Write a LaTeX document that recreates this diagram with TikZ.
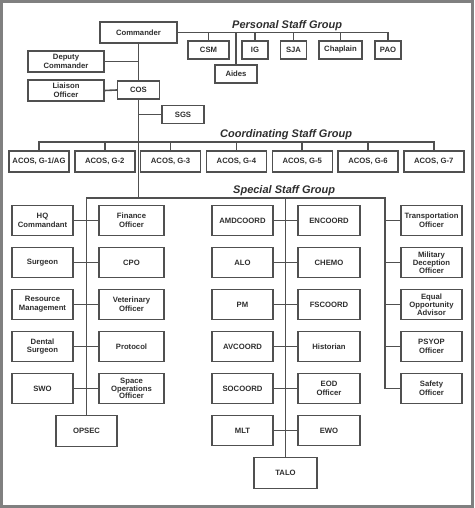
\documentclass[tikz,border=0pt]{standalone}
\usepackage{fontspec}
\setmainfont{Liberation Sans}
\definecolor{linecol}{HTML}{505050}
\definecolor{txtcol}{HTML}{2E2E2E}
\definecolor{framecol}{HTML}{808080}
\begin{document}
\begin{tikzpicture}[x=1pt,y=-1pt,
  bx/.style={draw=linecol,line width=1.4pt,fill=white,text=txtcol,
    font=\fontsize{7.7}{8.7}\selectfont\bfseries,align=center,inner sep=0pt,
    minimum width=#1},
  bx/.default=61pt,
  three/.style={font=\fontsize{7.7}{7.8}\selectfont\bfseries},
  h18/.style={minimum height=18pt},
  h21/.style={minimum height=21pt},
  h31/.style={minimum height=30.5pt},
  conn/.style={draw=linecol,line width=1.6pt},
  grp/.style={text=txtcol,font=\fontsize{11}{12}\selectfont\bfseries\itshape,inner sep=0pt,anchor=base west}]
\useasboundingbox (0,0) rectangle (474,508);
\fill[white] (0,0) rectangle (474,508);
\draw[framecol,line width=3pt] (1.5,1.5) rectangle (472.5,506.5);

% connector junctions
\coordinate (cj) at (138.5,142);
\coordinate (sj) at (138.5,198);
\coordinate (rv) at (385,198);

% top
\node[bx=77pt,h21] (cmd) at (138.5,32.5) {Commander};
\node[bx=76pt,h21] (dep) at (66,61.5) {Deputy\\Commander};
\node[bx=76pt,h21] (lia) at (66,90.5) {Liaison\\Officer};
\node[bx=42pt,h18] (cos) at (138.5,90) {COS};
\node[bx=42pt,h18] (sgs) at (183,114.5) {SGS};

% personal staff
\node[grp] (pgl) at (232,28.5) {Personal Staff Group};
\node[bx=41pt,h18] (csm) at (208.5,50) {CSM};
\node[bx=42pt,h18] (aid) at (236,74) {Aides};
\node[bx=26pt,h18] (ig) at (255,50) {IG};
\node[bx=26pt,h18] (sja) at (293.5,50) {SJA};
\node[bx=43pt,h18] (cha) at (340.5,50) {Chaplain};
\node[bx=26pt,h18] (pao) at (388,50) {PAO};

% coordinating staff
\node[grp] (cgl) at (220,137.8) {Coordinating Staff Group};
\node[bx=60pt,h21] (g1) at (39,161.5) {ACOS, G-1/AG};
\node[bx=60pt,h21] (g2) at (104.8,161.5) {ACOS, G-2};
\node[bx=60pt,h21] (g3) at (170.6,161.5) {ACOS, G-3};
\node[bx=60pt,h21] (g4) at (236.4,161.5) {ACOS, G-4};
\node[bx=60pt,h21] (g5) at (302.2,161.5) {ACOS, G-5};
\node[bx=60pt,h21] (g6) at (368,161.5) {ACOS, G-6};
\node[bx=60pt,h21] (g7) at (433.8,161.5) {ACOS, G-7};

% special staff
\node[grp] (sgl) at (233,193.3) {Special Staff Group};

% left block
\node[bx,h31] (hq) at (42.5,220.5) {HQ\\Commandant};
\node[bx=65pt,h31] (fin) at (131.5,220.5) {Finance\\Officer};
\node[bx,h31] (sur) at (42.5,262.5) {Surgeon};
\node[bx=65pt,h31] (cpo) at (131.5,262.5) {CPO};
\node[bx,h31] (res) at (42.5,304.5) {Resource\\Management};
\node[bx=65pt,h31] (vet) at (131.5,304.5) {Veterinary\\Officer};
\node[bx,h31] (den) at (42.5,346.5) {Dental\\Surgeon};
\node[bx=65pt,h31] (pro) at (131.5,346.5) {Protocol};
\node[bx,h31] (swo) at (42.5,388.5) {SWO};
\node[bx=65pt,h31,three] (spa) at (131.5,388.5) {Space\\Operations\\Officer};
\node[bx,h31] (ops) at (86.5,431) {OPSEC};

% middle block
\node[bx,h31] (amd) at (242.5,220.5) {AMDCOORD};
\node[bx=62pt,h31] (enc) at (329,220.5) {ENCOORD};
\node[bx,h31] (alo) at (242.5,262.5) {ALO};
\node[bx=62pt,h31] (che) at (329,262.5) {CHEMO};
\node[bx,h31] (pm) at (242.5,304.5) {PM};
\node[bx=62pt,h31] (fsc) at (329,304.5) {FSCOORD};
\node[bx,h31] (avc) at (242.5,346.5) {AVCOORD};
\node[bx=62pt,h31] (his) at (329,346.5) {Historian};
\node[bx,h31] (soc) at (242.5,388.5) {SOCOORD};
\node[bx=62pt,h31] (eod) at (329,388.5) {EOD\\Officer};
\node[bx,h31] (mlt) at (242.5,430.5) {MLT};
\node[bx=62pt,h31] (ewo) at (329,430.5) {EWO};
\node[bx=63pt,h31] (tal) at (285.5,473) {TALO};

% right block
\node[bx,h31] (tra) at (431.5,220.5) {Transportation\\Officer};
\node[bx,h31,three] (mil) at (431.5,262.5) {Military\\Deception\\Officer};
\node[bx,h31,three] (equ) at (431.5,304.5) {Equal\\Opportunity\\Advisor};
\node[bx,h31] (psy) at (431.5,346.5) {PSYOP\\Officer};
\node[bx,h31] (saf) at (431.5,388.5) {Safety\\Officer};

% connectors
\path[conn] (cmd.south) -- (cos.north);
\path[conn] (cos.south) -- (sj);
\path[conn] (dep.east) -- (dep.east -| cmd.south);
\path[conn] (lia.east) -- (cos.west);
\path[conn] (sgs.west) -- (sgs.west -| cos.south);
% personal
\path[conn] (cmd.east) -- (cmd.east -| pao.north) -- (pao.north);
\foreach \n in {csm,aid,ig,sja,cha} \path[conn] (\n.north) -- (\n.north |- cmd.east);
% coordinating
\path[conn] (g1.north) -- (g1.north |- cj) -- (g7.north |- cj) -- (g7.north);
\foreach \n in {g2,g3,g4,g5,g6} \path[conn] (\n.north) -- (\n.north |- cj);
% special
\path[conn] (ops.north) -- (ops.north |- sj) -- (rv) -- (rv |- saf.west) -- (saf.west);
\path[conn] (tal.north) -- (tal.north |- sj);
\foreach \a/\b in {hq/fin,sur/cpo,res/vet,den/pro,swo/spa,amd/enc,alo/che,pm/fsc,avc/his,soc/eod,mlt/ewo}
  \path[conn] (\a.east) -- (\b.west);
\foreach \n in {tra,mil,equ,psy} \path[conn] (\n.west) -- (\n.west -| rv);
\end{tikzpicture}
\end{document}
